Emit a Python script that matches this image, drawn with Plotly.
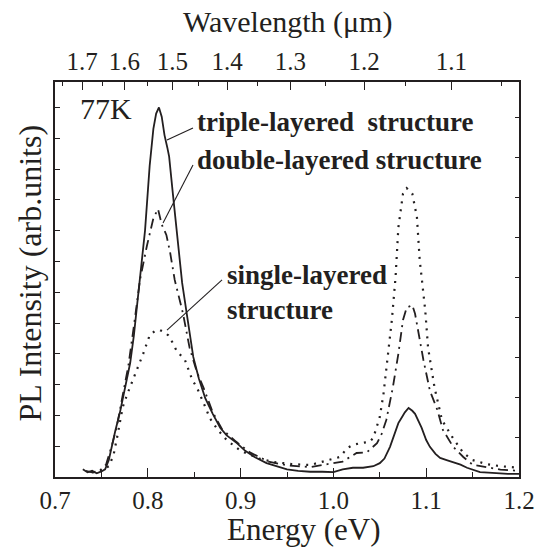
import plotly.graph_objects as go

# ---------------- data ----------------
triple_E = [0.730,0.735,0.740,0.745,0.750,0.754,0.758,0.761,0.765,0.770,0.775,0.781,0.785,0.789,0.792,0.797,0.802,0.806,0.809,0.812,0.815,0.818,0.821,0.823,0.827,0.8315,0.837,0.842,0.849,0.855,0.862,0.870,0.878,0.885,0.896,0.905,0.915,0.928,0.940,0.950,0.962,0.975,0.988,1.000,1.010,1.021,1.032,1.043,1.050,1.055,1.061,1.066,1.070,1.074,1.077,1.081,1.085,1.088,1.092,1.095,1.100,1.104,1.110,1.115,1.122,1.129,1.137,1.144,1.151,1.158,1.167,1.176,1.188,1.200]
triple_I = [0.25,0.15,0.20,0.12,0.18,0.25,0.55,1.0,1.5,2.1,2.8,3.7,4.6,5.8,6.5,8.0,10.1,11.3,11.8,12.0,11.7,11.1,10.7,10.4,9.2,7.8,6.3,5.3,3.9,3.2,2.55,2.05,1.6,1.35,1.1,0.85,0.65,0.45,0.33,0.25,0.20,0.17,0.17,0.16,0.25,0.30,0.30,0.35,0.45,0.60,0.98,1.45,1.75,1.95,2.1,2.24,2.15,2.05,1.8,1.6,1.2,0.98,0.75,0.62,0.55,0.48,0.40,0.30,0.22,0.16,0.14,0.12,0.10,0.10]

double_E = [0.733,0.740,0.748,0.755,0.762,0.767,0.772,0.779,0.785,0.7916,0.799,0.806,0.811,0.815,0.820,0.824,0.829,0.838,0.845,0.853,0.860,0.870,0.880,0.895,0.910,0.930,0.950,0.975,1.000,1.010,1.025,1.036,1.047,1.052,1.057,1.064,1.070,1.075,1.079,1.085,1.088,1.093,1.097,1.104,1.112,1.118,1.129,1.140,1.150,1.165,1.180,1.200]
double_I = [0.20,0.15,0.20,0.40,1.1,1.7,2.5,3.6,4.9,6.4,7.5,8.4,8.7,8.2,7.86,7.3,6.4,5.3,4.2,3.4,2.9,2.1,1.55,1.15,0.80,0.50,0.38,0.32,0.45,0.50,0.78,0.80,1.1,1.4,1.85,2.9,4.0,5.1,5.5,5.58,5.3,4.45,3.8,2.8,2.18,1.53,0.98,0.65,0.40,0.32,0.24,0.20]

single_E = [0.740,0.750,0.758,0.763,0.767,0.773,0.778,0.784,0.789,0.795,0.802,0.808,0.813,0.818,0.822,0.827,0.831,0.840,0.848,0.853,0.862,0.867,0.875,0.885,0.900,0.920,0.935,0.955,0.975,0.996,1.007,1.015,1.021,1.029,1.039,1.043,1.047,1.050,1.054,1.059,1.063,1.067,1.070,1.075,1.079,1.085,1.090,1.093,1.099,1.102,1.109,1.117,1.128,1.140,1.150,1.165,1.180,1.200]
single_I = [0.15,0.20,0.35,0.70,1.3,2.27,2.7,3.15,3.57,4.0,4.6,4.75,4.77,4.7,4.6,4.35,4.1,3.8,3.15,2.9,2.27,1.9,1.55,1.2,0.85,0.60,0.49,0.42,0.39,0.55,0.65,0.94,1.04,1.1,1.14,1.27,1.62,1.95,2.7,4.0,5.1,6.5,8.1,9.2,9.38,9.2,8.44,7.05,5.4,4.2,2.9,1.85,1.3,0.78,0.55,0.42,0.35,0.30]

energy_ticks = [0.7, 0.8, 0.9, 1.0, 1.1, 1.2]
energy_minor = [0.75, 0.85, 0.95, 1.05, 1.15]
wl_labels = [1.7, 1.6, 1.5, 1.4, 1.3, 1.2, 1.1]
wl_minor = [1.75, 1.65, 1.55, 1.45, 1.35, 1.25, 1.15, 1.05]
HC = 1.2398  # eV*um

FONT = "Liberation Serif, Times New Roman, Times, serif"
INK = "#231f20"

fig = go.Figure()
fig.add_trace(go.Scatter(x=single_E, y=single_I, mode="lines",
                         line=dict(color=INK, width=2.2, dash="2px,6px"), showlegend=False))
fig.add_trace(go.Scatter(x=double_E, y=double_I, mode="lines",
                         line=dict(color=INK, width=1.8, dash="10px,5px,2px,5px"), showlegend=False))
fig.add_trace(go.Scatter(x=triple_E, y=triple_I, mode="lines",
                         line=dict(color=INK, width=1.8), showlegend=False))

wl_pos = [HC / w for w in wl_labels]
wl_minor_pos = [HC / w for w in wl_minor]

tickfont = dict(family=FONT, size=25, color=INK)

fig.update_layout(
    width=547, height=548,
    margin=dict(l=55, r=28, t=82, b=71),
    paper_bgcolor="white", plot_bgcolor="white",
    font=dict(family=FONT, color=INK, size=24),
    xaxis=dict(range=[0.7, 1.2], tickmode="array", tickvals=energy_ticks,
               ticktext=[f"{v:.1f}" for v in energy_ticks],
               ticks="inside", ticklen=9, tickwidth=1.3, tickcolor=INK,
               minor=dict(tickvals=energy_minor, ticks="inside", ticklen=5, tickwidth=1.3, tickcolor=INK),
               showline=True, linecolor=INK, linewidth=1.5, showgrid=False, zeroline=False,
               tickfont=tickfont),
    xaxis2=dict(range=[0.7, 1.2], overlaying="x", side="top", anchor="y",
                tickmode="array", tickvals=wl_pos, ticktext=[f"{w:.1f}" for w in wl_labels],
                ticks="inside", ticklen=8, tickwidth=1.3, tickcolor=INK,
                minor=dict(tickvals=wl_minor_pos, ticks="inside", ticklen=4, tickwidth=1.3, tickcolor=INK),
                showline=True, linecolor=INK, linewidth=1.5, showgrid=False, zeroline=False,
                tickfont=tickfont),
    yaxis=dict(range=[0, 395 / 30.8], tick0=0, dtick=1, ticks="inside", ticklen=5,
               tickwidth=1.3, tickcolor=INK, showticklabels=False,
               showline=True, linecolor=INK, linewidth=1.5, showgrid=False, zeroline=False),
    yaxis2=dict(range=[0, 395 / 40.0], overlaying="y", side="right", anchor="x",
                tick0=0, dtick=1, ticks="inside", ticklen=4, tickwidth=1.3, tickcolor=INK,
                showticklabels=False, showline=True, linecolor=INK, linewidth=1.5,
                showgrid=False, zeroline=False),
)
# invisible anchor trace so the secondary axes render
fig.add_trace(go.Scatter(x=[0.7], y=[0], xaxis="x2", yaxis="y2", mode="markers",
                         marker=dict(opacity=0), showlegend=False, hoverinfo="skip"))

ann = []
ann.append(dict(text="Energy (eV)", xref="paper", yref="paper", x=0.5, y=0, yshift=-52, xshift=17,
                showarrow=False, font=dict(family=FONT, size=31, color=INK), xanchor="center", yanchor="middle"))
ann.append(dict(text="Wavelength (μm)", xref="paper", yref="paper", x=0.5, y=1, yshift=60,
                showarrow=False, font=dict(family=FONT, size=30, color=INK), xanchor="center", yanchor="middle"))
ann.append(dict(text="PL Intensity (arb.units)", xref="paper", yref="paper", x=0, y=0.5, xshift=-26, yshift=6,
                textangle=-90, showarrow=False, font=dict(family=FONT, size=32, color=INK),
                xanchor="center", yanchor="middle"))
ann.append(dict(text="77K", xref="x", yref="y", x=0.7245, y=11.95, showarrow=False,
                font=dict(family=FONT, size=30, color=INK), xanchor="left", yanchor="middle"))
labels = [("<b>triple-layered  structure</b>", 0.851, 11.53),
          ("<b>double-layered structure</b>", 0.851, 10.29),
          ("<b>single-layered</b>", 0.883, 6.56),
          ("<b>structure</b>", 0.883, 5.42)]
for t, x, y in labels:
    ann.append(dict(text=t, xref="x", yref="y", x=x, y=y, showarrow=False,
                    font=dict(family=FONT, size=27, color=INK), xanchor="left", yanchor="middle"))
fig.update_layout(annotations=ann)

leaders = [(0.8487, 11.33, 0.8207, 10.94),
           (0.8487, 10.13, 0.8164, 8.25),
           (0.880, 6.40, 0.8207, 4.77)]
for x0, y0, x1, y1 in leaders:
    fig.add_shape(type="line", xref="x", yref="y", x0=x0, y0=y0, x1=x1, y1=y1,
                  line=dict(color=INK, width=1.1))

fig.write_html("out.html")
